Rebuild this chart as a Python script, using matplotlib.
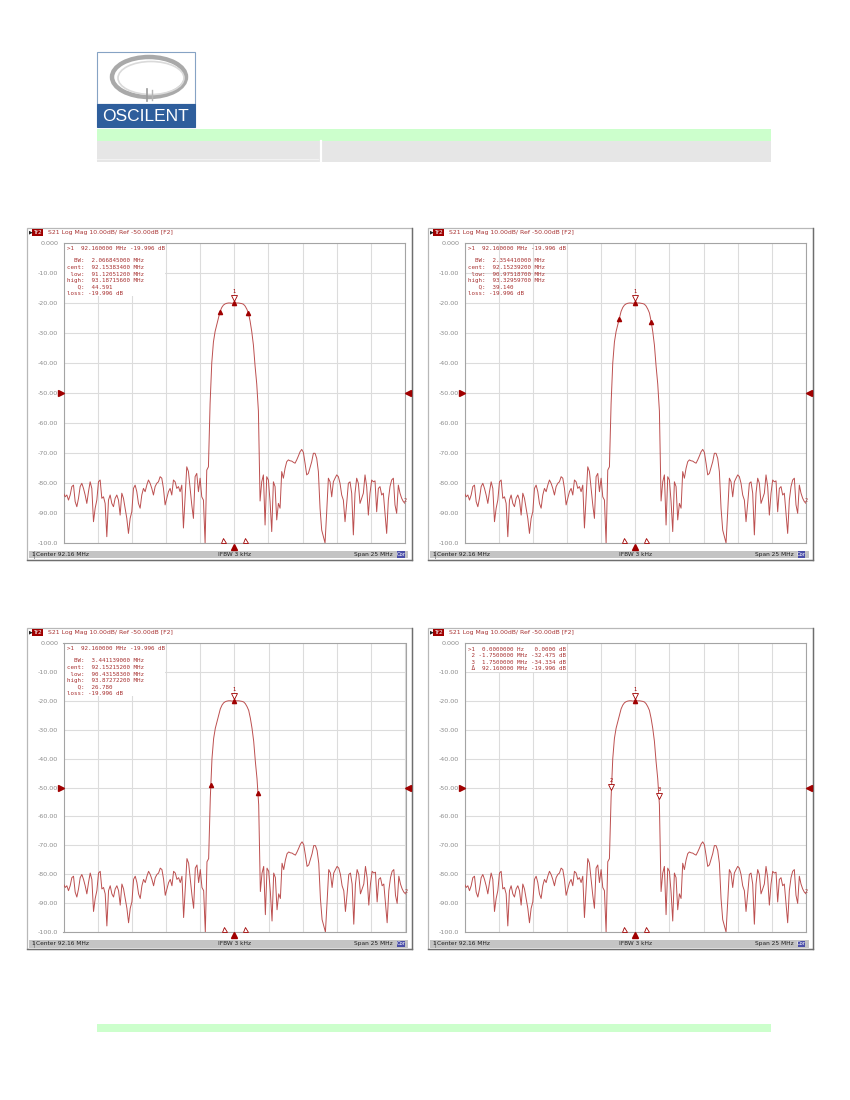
import numpy as np
import matplotlib
matplotlib.use("Agg")
import matplotlib.pyplot as plt
from matplotlib.patches import Rectangle, Ellipse
import matplotlib.transforms as mtransforms

# ---------------- data ----------------
CENTER_MHZ = 92.16
SPAN_MHZ = 25.0
N_POINTS = 206

s21_left = [-83.4, -84.6, -84.0, -85.7, -84.0, -81.2, -80.7, -86.2, -87.9, -85.1,
            -81.2, -80.1, -81.8, -84.0, -86.8, -82.9, -79.6, -81.8, -92.9, -88.4,
            -85.7, -79.6, -79.0, -85.1, -84.6, -86.8, -97.9, -85.7, -84.0, -86.8,
            -87.9, -85.1, -84.0, -85.7, -90.7, -83.4, -85.1, -88.4, -91.8, -96.8,
            -91.8, -89.6, -81.8, -80.7, -82.9, -86.8, -88.4, -84.0, -81.8, -82.9,
            -80.7, -79.0, -80.1, -81.8, -84.0, -81.2, -80.1, -79.6, -77.9, -78.4,
            -81.8, -87.3, -85.1, -82.9, -81.8, -84.0, -79.0, -79.6, -81.8, -81.2,
            -82.9, -80.7, -95.0, -85.1, -74.6, -76.2, -81.8, -87.3, -91.8, -77.9,
            -76.8, -82.9, -78.4, -84.6, -85.7, -100.0, -75.7, -74.6]
s21_pass = [-53.5, -40.0, -33.0, -29.5, -27.3, -25.0, -22.8, -21.5, -20.7, -20.3,
            -20.1, -20.0, -20.0, -20.1, -20.0, -19.996, -20.0, -20.0, -20.1, -20.2,
            -20.4, -21.0, -22.0, -23.3, -26.0, -29.5, -34.0, -41.0, -47.0, -56.0]
s21_right = [-86.0, -79.6, -77.3, -94.0, -77.9, -79.0, -86.2, -96.2, -79.6, -81.2,
             -92.3, -86.8, -88.4, -76.2, -78.4, -75.1, -72.9, -72.3, -72.6, -72.7,
             -73.1, -73.4, -72.3, -71.0, -69.6, -68.8, -69.8, -73.4, -77.3, -76.8,
             -74.9, -72.9, -70.1, -70.1, -71.8, -76.2, -88.4, -95.7, -97.9, -100.0,
             -89.6, -78.4, -79.6, -84.6, -79.6, -78.4, -77.3, -77.9, -80.1, -84.0,
             -85.7, -92.9, -86.8, -80.1, -79.6, -83.4, -97.3, -83.4, -78.4, -80.1,
             -86.8, -85.1, -83.4, -77.3, -81.2, -90.7, -83.4, -79.0, -79.6, -79.3,
             -89.6, -81.8, -81.2, -84.0, -83.4, -90.1, -96.8, -85.7, -81.2, -79.0,
             -78.4, -87.3, -90.1, -80.7, -83.4, -85.1, -86.2, -86.8]
s21_db = np.array(s21_left + s21_pass + s21_right)
freq_mhz = np.linspace(CENTER_MHZ - SPAN_MHZ / 2, CENTER_MHZ + SPAN_MHZ / 2, N_POINTS)

ytick_values = [0, -10, -20, -30, -40, -50, -60, -70, -80, -90, -100]
ytick_labels = ["0.000", "-10.00", "-20.00", "-30.00", "-40.00", "-50.00",
                "-60.00", "-70.00", "-80.00", "-90.00", "-100.0"]
REF_DB = -50.0

title_text = "S21 Log Mag 10.00dB/ Ref -50.00dB [F2]"
status_center = "Center 92.16 MHz"
status_ifbw = "IFBW 3 kHz"
status_span = "Span 25 MHz"

marker1_mhz = 92.16
marker1_db = -19.996
bw_low_mhz = [91.120512, 90.975187, 90.431583]
bw_high_mhz = [93.187156, 93.329597, 93.872722]
rel_marker_offsets_mhz = [-1.75, 1.75]
stim_markers_mhz = [91.36, 92.96]

info_p1 = ["  BW:  2.066845000 MHz", "cent:  92.15383400 MHz", " low:  91.12051200 MHz",
           "high:  93.18715600 MHz", "   Q:  44.591", "loss: -19.996 dB"]
info_p2 = ["  BW:  2.354410000 MHz", "cent:  92.15239200 MHz", " low:  90.97518700 MHz",
           "high:  93.32959700 MHz", "   Q:  39.140", "loss: -19.996 dB"]
info_p3 = ["  BW:  3.441139000 MHz", "cent:  92.15215200 MHz", " low:  90.43158300 MHz",
           "high:  93.87272200 MHz", "   Q:  26.780", "loss: -19.996 dB"]
head_line = ">1  92.160000 MHz -19.996 dB"
info_p4 = [">1  0.0000000 Hz   0.0000 dB",
           " 2 -1.7500000 MHz -32.475 dB",
           " 3  1.7500000 MHz -34.334 dB",
           " \u0394  92.160000 MHz -19.996 dB"]

# ---------------- layout ----------------
W, H = 850, 1100
fig = plt.figure(figsize=(W / 100, H / 100), dpi=100)
page = fig.add_axes([0, 0, 1, 1], zorder=0)
page.set_xlim(0, W)
page.set_ylim(H, 0)
page.axis("off")

def rect_frac(x0, y0, x1, y1):
    return [x0 / W, 1 - y1 / H, (x1 - x0) / W, (y1 - y0) / H]

def prect(x0, y0, x1, y1, **kw):
    page.add_patch(Rectangle((x0, y0), x1 - x0, y1 - y0, **kw))

# header / logo
prect(97, 52, 195, 104, facecolor="white", edgecolor="#86A3C4", lw=0.8)
prect(97, 104, 195, 127, facecolor="#2E5E9C", edgecolor="#2E5E9C", lw=0.8)
page.add_patch(Ellipse((149, 77), 74, 40, facecolor="none", edgecolor="#A9A9A9", lw=3.2))
page.add_patch(Ellipse((151, 78), 66, 33, facecolor="none", edgecolor="#DADADA", lw=1.2))
page.plot([147, 147], [89, 101], color="#9A9A9A", lw=1.2)
page.plot([152, 152], [90, 100], color="#B5B5B5", lw=1.0)
page.text(146, 116.5, "OSCILENT", color="white", fontsize=12.5, family="Liberation Sans",
          ha="center", va="center")
prect(97, 129, 771, 141, facecolor="#CCFFCC", edgecolor="none")
prect(97, 141, 771, 162, facecolor="#E6E6E6", edgecolor="none")
page.plot([321, 321], [141, 162], color="white", lw=1.6)
page.plot([97, 318], [158.5, 158.5], color="#F2F2F2", lw=0.8)
prect(97, 1024, 771, 1032, facecolor="#CCFFCC", edgecolor="none")

panel_frames = [(27.5, 227.5, 412.5, 559.5), (428.5, 227.5, 813, 559.5),
                (27.5, 627.5, 412.5, 948.5), (428.5, 627.5, 813, 948.5)]
plot_rects = [(63.5, 243, 405, 543), (464.5, 243, 806, 543),
              (63.5, 643, 405.5, 932), (464.5, 643, 806, 932)]
status_rows = [(550.5, 558), (550.5, 558), (940, 947.5), (940, 947.5)]

TRACE = "#BC4F4F"
DARK = "#A00000"
TXT = "#A83232"
MONO = "DejaVu Sans Mono"

for k in range(4):
    fx0, fy0, fx1, fy1 = panel_frames[k]
    px0, py0, px1, py1 = plot_rects[k]
    sb0, sb1 = status_rows[k]

    # frame
    prect(fx0, fy0, fx1, fy1, facecolor="white", edgecolor="#B8B8B8", lw=0.9)
    page.plot([fx1, fx1], [fy0, fy1], color="#6E6E6E", lw=1.0)
    page.plot([fx0, fx1], [fy1, fy1], color="#6E6E6E", lw=1.0)

    # title bar
    page.text(fx0 + 1.2, fy0 + 4.8, "\u25B6", fontsize=3.6, color="#202020", va="center", ha="left")
    prect(fx0 + 4.2, fy0 + 1.2, fx0 + 15.5, fy0 + 8.6, facecolor="#A00000", edgecolor="none")
    page.text(fx0 + 9.9, fy0 + 5.0, "Tr2", fontsize=4.2, color="white", ha="center", va="center")
    page.text(fx0 + 20.5, fy0 + 5.0, title_text, fontsize=4.4, color=TXT, ha="left", va="center")

    # status bar
    prect(fx0 + 1.5, sb0, fx1 - 4, sb1, facecolor="#C4C4C4", edgecolor="none")
    sy = (sb0 + sb1) / 2
    page.text(fx0 + 3.5, sy, "1", fontsize=4.2, color="#202020", va="center")
    page.plot([fx0 + 6.5, fx0 + 6.5], [sb0 + 0.5, sb1 - 0.5], color="#8A8A8A", lw=0.6)
    page.text(fx0 + 8.5, sy, status_center, fontsize=4.2, color="#202020", va="center")
    page.text((px0 + px1) / 2, sy, status_ifbw, fontsize=4.2, color="#202020", va="center", ha="center")
    page.text(fx1 - 19.5, sy, status_span, fontsize=4.2, color="#202020", va="center", ha="right")
    prect(fx1 - 15, sb0 + 0.5, fx1 - 7.5, sb1 - 0.5, facecolor="#4B4FA8", edgecolor="none")
    page.text(fx1 - 11.25, sy, "Cor", fontsize=3.8, color="white", va="center", ha="center")

    # plot axes
    ax = fig.add_axes(rect_frac(px0, py0, px1, py1), zorder=2)
    ax.set_facecolor("white")
    ax.set_xlim(freq_mhz[0], freq_mhz[-1])
    ax.set_ylim(-100, 0)
    ax.set_xticks(np.linspace(freq_mhz[0], freq_mhz[-1], 11))
    ax.set_xticklabels([])
    ax.set_yticks(ytick_values)
    ax.set_yticklabels(ytick_labels, fontsize=4.6, color="#8C8C8C")
    ax.tick_params(axis="both", length=0, pad=3.8)
    ax.set_axisbelow(True)
    ax.grid(True, color="#DCDCDC", lw=0.8)
    for sp in ax.spines.values():
        sp.set_color("#A4A4A4")
        sp.set_linewidth(0.8)

    # info box
    if k < 3:
        bw_frac, bh_frac = (165 - px0) / (px1 - px0), (296 - 243) / (py1 - py0)
    else:
        bw_frac, bh_frac = (567 - px0) / (px1 - px0), (672 - 643) / (py1 - py0)
    ax.add_patch(Rectangle((0, 1 - bh_frac), bw_frac, bh_frac, transform=ax.transAxes,
                           facecolor="white", edgecolor="none", zorder=1))

    # trace
    ax.plot(freq_mhz, s21_db, color=TRACE, lw=0.7, zorder=3)
    ax.text(freq_mhz[-1], s21_db[-1], "2", fontsize=3.6, color=TXT, ha="right", va="bottom",
            transform=mtransforms.offset_copy(ax.transData, fig=fig, x=2, y=0, units="dots"), zorder=4)

    # reference level arrows
    bl = mtransforms.blended_transform_factory(ax.transAxes, ax.transData)
    ax.plot([-0.0085], [REF_DB], marker=">", ms=5, color=DARK, transform=bl, clip_on=False, zorder=5)
    ax.plot([1.0085], [REF_DB], marker="<", ms=5, color=DARK, transform=bl, clip_on=False, zorder=5)

    # stimulus markers on bottom
    bb = mtransforms.blended_transform_factory(ax.transData, ax.transAxes)
    for fm in stim_markers_mhz:
        ax.plot([fm], [0.0095], marker="^", ms=3.6, mfc="white", mec=DARK, mew=0.6,
                transform=bb, clip_on=False, zorder=5)
    ax.plot([marker1_mhz], [-0.012], marker="^", ms=4.6, color=DARK, transform=bb,
            clip_on=False, zorder=5)

    # marker 1
    m1v = marker1_db
    off_tri = mtransforms.offset_copy(ax.transData, fig=fig, x=0, y=5.0, units="dots")
    off_lbl = mtransforms.offset_copy(ax.transData, fig=fig, x=0, y=8.5, units="dots")
    ax.plot([marker1_mhz], [m1v], marker="v", ms=4.2, mfc="white", mec=DARK, mew=0.6,
            transform=off_tri, zorder=6)
    ax.text(marker1_mhz, m1v, "1", fontsize=3.8, color=DARK, ha="center", va="bottom",
            transform=off_lbl, zorder=6)
    ax.plot([marker1_mhz], [m1v], marker="^", ms=3.0, color=DARK, zorder=6)

    top = py0
    lx = px0 + 3.2
    if k < 3:
        lo, hi = bw_low_mhz[k], bw_high_mhz[k]
        for fm in (lo, hi):
            v = np.interp(fm, freq_mhz, s21_db)
            ax.plot([fm], [v], marker="^", ms=3.0, color=DARK, zorder=6)
        info = [info_p1, info_p2, info_p3][k]
        ax.text(lx, top + 5.5, head_line, fontsize=4.2, family=MONO, color=TXT,
                va="center", ha="left", transform=page.transData, zorder=7)
        for j, line in enumerate(info):
            ax.text(lx + 0.8, top + 18.0 + 6.5 * j, line, fontsize=4.2, family=MONO, color=TXT,
                    va="center", ha="left", transform=page.transData, zorder=7)
    else:
        for n, dm in enumerate(rel_marker_offsets_mhz):
            fm = marker1_mhz + dm
            v = np.interp(fm, freq_mhz, s21_db)
            ax.plot([fm], [v], marker="v", ms=4.2, mfc="white", mec=DARK, mew=0.6,
                    transform=off_tri, zorder=6)
            ax.text(fm, v, str(n + 2), fontsize=3.8, color=DARK, ha="center", va="bottom",
                    transform=off_lbl, zorder=6)
        for j, line in enumerate(info_p4):
            ax.text(lx, top + 6.3 + 6.45 * j, line, fontsize=4.2, family=MONO, color=TXT,
                    va="center", ha="left", transform=page.transData, zorder=7)

fig.savefig("out.png", dpi=100)
